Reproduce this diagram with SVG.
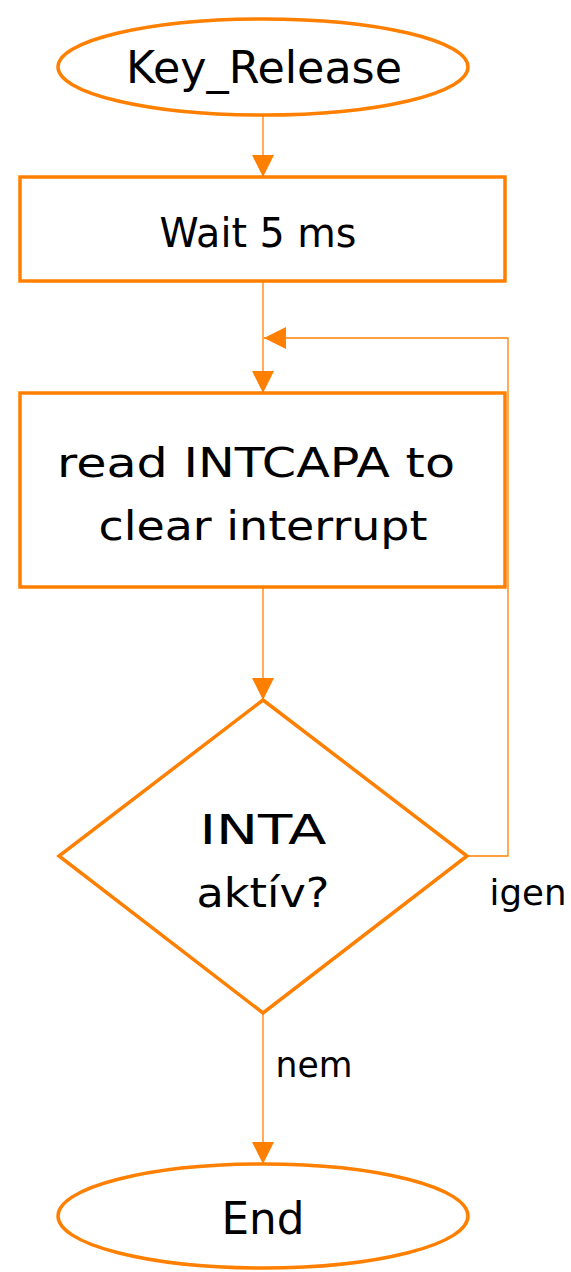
<svg xmlns="http://www.w3.org/2000/svg" width="571" height="1272" viewBox="0 0 571 1272">
  <style>
    .node { fill: #ffffff; stroke: #ff8000; stroke-width: 3.5; }
    .link { fill: none; stroke: #ff8000; stroke-width: 1.3; }
    .label { font-family: "Comic Sans MS", "DejaVu Sans", "Noto Sans", sans-serif; fill: #000000; text-anchor: middle; }
    .big { font-size: 44px; }
    .mid { font-size: 40px; }
    .small { font-size: 35px; }
  </style>
  <defs>
    <marker id="arrow" viewBox="0 0 22 22" refX="22" refY="11" markerWidth="22" markerHeight="22" markerUnits="userSpaceOnUse" orient="auto">
      <path d="M0,0 L22,11 L0,22 Z" fill="#ff8000"/>
    </marker>
  </defs>

  <rect x="0" y="0" width="571" height="1272" fill="#ffffff"/>

  <g id="connectors">
    <line class="link" x1="263" y1="115" x2="263" y2="177" marker-end="url(#arrow)"/>
    <line class="link" x1="263" y1="281" x2="263" y2="393" marker-end="url(#arrow)"/>
    <polyline class="link" points="467,856 508,856 508,338 264,338" marker-end="url(#arrow)"/>
    <line class="link" x1="263" y1="587" x2="263" y2="700" marker-end="url(#arrow)"/>
    <line class="link" x1="263" y1="1013" x2="263" y2="1164" marker-end="url(#arrow)"/>
    <text class="label small" x="528" y="905" textLength="77" lengthAdjust="spacingAndGlyphs">igen</text>
    <text class="label small" x="314" y="1077" textLength="77" lengthAdjust="spacingAndGlyphs">nem</text>
  </g>

  <g id="start">
    <ellipse class="node" cx="263" cy="67" rx="205" ry="48"/>
    <text class="label big" x="264" y="83" textLength="276" lengthAdjust="spacingAndGlyphs">Key_Release</text>
  </g>

  <g id="wait">
    <rect class="node" x="20" y="177" width="485" height="104"/>
    <text class="label mid" x="258" y="247" textLength="197" lengthAdjust="spacingAndGlyphs">Wait 5 ms</text>
  </g>

  <g id="read">
    <rect class="node" x="20" y="393" width="485" height="194"/>
    <text class="label mid" x="256" y="477" textLength="398" lengthAdjust="spacingAndGlyphs">read INTCAPA to</text>
    <text class="label mid" x="263" y="540" textLength="329" lengthAdjust="spacingAndGlyphs">clear interrupt</text>
  </g>

  <g id="check">
    <polygon class="node" points="263,700 467,856 263,1013 59,856"/>
    <text class="label mid" x="263" y="844" textLength="127" lengthAdjust="spacingAndGlyphs">INTA</text>
    <text class="label mid" x="263" y="907" textLength="133" lengthAdjust="spacingAndGlyphs">aktív?</text>
  </g>

  <g id="end">
    <ellipse class="node" cx="263" cy="1216" rx="205" ry="52"/>
    <text class="label big" x="263" y="1234" textLength="83" lengthAdjust="spacingAndGlyphs">End</text>
  </g>
</svg>
